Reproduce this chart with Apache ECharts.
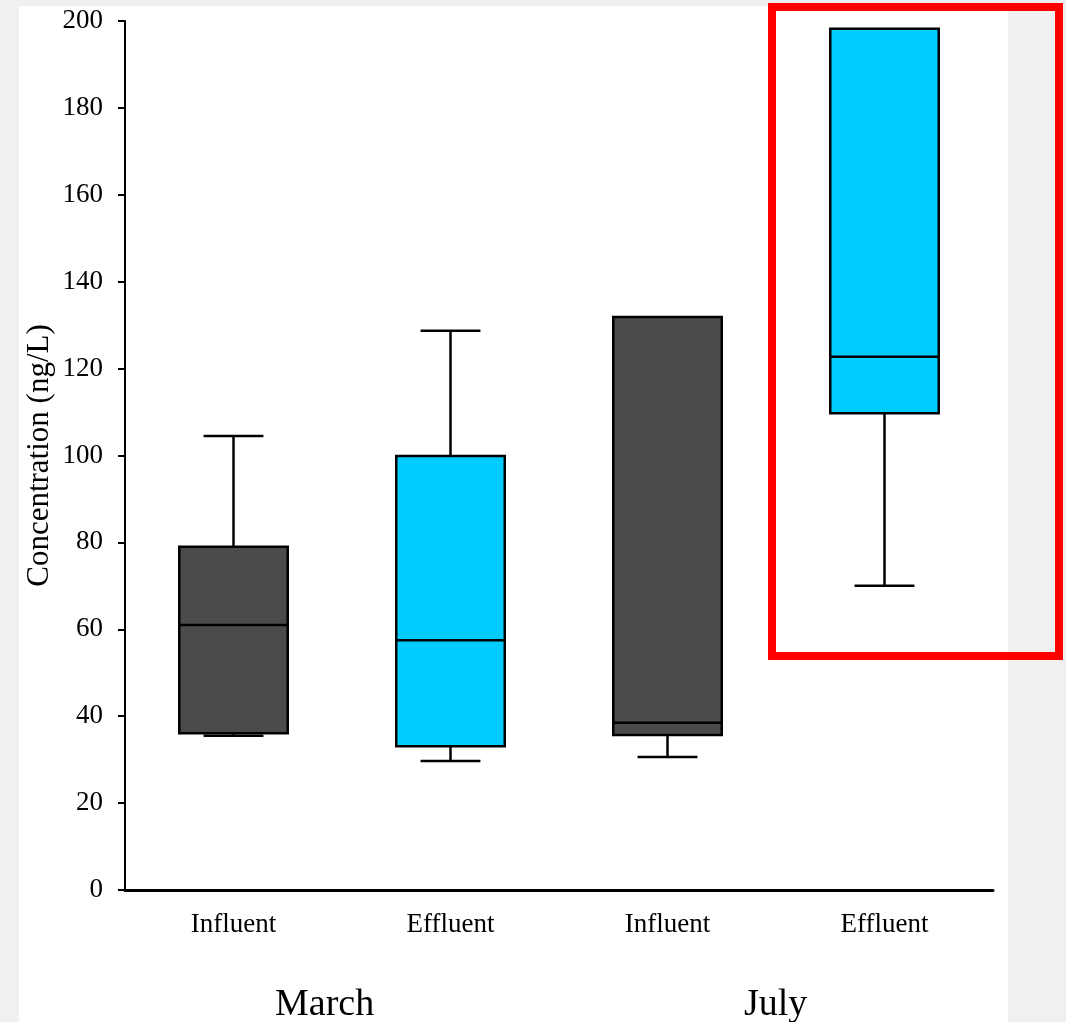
<!DOCTYPE html>
<html>
<head>
<meta charset="utf-8">
<script src="https://cdn.jsdelivr.net/npm/echarts@6/dist/echarts.min.js"></script>
<style>
html,body{margin:0;padding:0;background:#f0f0f0;}
#chart{width:1066px;height:1022px;}
</style>
</head>
<body>
<div id="chart"></div>
<script>
// ---- data ----
const categories = ['Influent', 'Effluent', 'Influent', 'Effluent'];
const sampleType = ['Influent', 'Effluent', 'Influent', 'Effluent'];
const mins    = [35.5, 29.7, 30.6, 70.0];
const q1s     = [36.1, 33.1, 35.7, 109.7];
const medians = [61.0, 57.5, 38.5, 122.7];
const q3s     = [79.0, 99.9, 131.9, 198.2];
const maxs    = [104.5, 128.7, 131.9, 198.2];
const groups  = ['March', 'July'];
const yTicks  = [0, 20, 40, 60, 80, 100, 120, 140, 160, 180, 200];

// ---- styles ----
const fillByType = { Influent: '#4b4b4b', Effluent: '#00ccff' };
const serif = 'Liberation Serif';

const boxData = categories.map((c, i) => [i, mins[i], q1s[i], medians[i], q3s[i], maxs[i]]);

const chart = echarts.init(document.getElementById('chart'), null, { renderer: 'canvas' });

function renderBox(params, api) {
  const x = api.value(0);
  const mn = api.value(1), q1 = api.value(2), md = api.value(3), q3 = api.value(4), mx = api.value(5);
  const band = api.size([1, 0])[0];
  const half = band * 0.25;
  const capHalf = band * 0.138;
  const pQ1 = api.coord([x, q1]);
  const pQ3 = api.coord([x, q3]);
  const pMd = api.coord([x, md]);
  const pMn = api.coord([x, mn]);
  const pMx = api.coord([x, mx]);
  const cx = pQ1[0];
  const fill = fillByType[sampleType[params.dataIndex]];
  const line = { stroke: '#000', lineWidth: 2.5 };
  const children = [];
  if (mx > q3) {
    children.push({ type: 'line', shape: { x1: cx, y1: pQ3[1], x2: cx, y2: pMx[1] }, style: line });
    children.push({ type: 'line', shape: { x1: cx - capHalf, y1: pMx[1], x2: cx + capHalf, y2: pMx[1] }, style: line });
  }
  if (mn < q1) {
    children.push({ type: 'line', shape: { x1: cx, y1: pQ1[1], x2: cx, y2: pMn[1] }, style: line });
    children.push({ type: 'line', shape: { x1: cx - capHalf, y1: pMn[1], x2: cx + capHalf, y2: pMn[1] }, style: line });
  }
  children.push({
    type: 'rect',
    shape: { x: cx - half, y: pQ3[1], width: half * 2, height: pQ1[1] - pQ3[1] },
    style: { fill: fill, stroke: '#000', lineWidth: 2.5 }
  });
  children.push({ type: 'line', shape: { x1: cx - half, y1: pMd[1], x2: cx + half, y2: pMd[1] }, style: line });
  return { type: 'group', children: children };
}

const option = {
  backgroundColor: '#f0f0f0',
  animation: false,
  grid: { left: 125, right: 73, top: 21, bottom: 132, containLabel: false },
  xAxis: {
    type: 'category',
    data: categories,
    boundaryGap: true,
    axisLine: { show: true, onZero: false, lineStyle: { color: '#000', width: 3 } },
    axisTick: { show: false },
    axisLabel: { color: '#000', fontFamily: serif, fontSize: 27, margin: 21, interval: 0 },
    splitLine: { show: false }
  },
  yAxis: {
    type: 'value',
    min: 0,
    max: 200,
    interval: 20,
    name: 'Concentration (ng/L)',
    nameLocation: 'middle',
    nameGap: 70,
    nameMoveOverlap: false,
    nameTextStyle: { color: '#000', fontFamily: serif, fontSize: 31 },
    axisLine: { show: true, lineStyle: { color: '#000', width: 2 } },
    axisTick: { show: true, inside: false, length: 7, lineStyle: { color: '#000', width: 2 } },
    axisLabel: {
      color: '#000', fontFamily: serif, fontSize: 27, margin: 22,
      formatter: v => (yTicks.indexOf(v) >= 0 ? String(v) : '')
    },
    splitLine: { show: false }
  },
  graphic: [
    { type: 'rect', z: -10, silent: true, shape: { x: 19, y: 6, width: 989, height: 1016 }, style: { fill: '#ffffff' } },
    { type: 'text', z: 10, left: 327 - 52, top: 986, style: { text: groups[0], font: '38px "Liberation Serif"', fill: '#000' } },
    { type: 'text', z: 10, left: 777 - 33, top: 986, style: { text: groups[1], font: '38px "Liberation Serif"', fill: '#000' } },
    { type: 'rect', z: 100, silent: true, shape: { x: 772, y: 7, width: 287, height: 649 }, style: { fill: 'none', stroke: '#ff0000', lineWidth: 8 } }
  ],
  series: [{
    type: 'custom',
    renderItem: renderBox,
    encode: { x: 0, y: [1, 2, 3, 4, 5] },
    data: boxData,
    z: 5
  }]
};

chart.setOption(option);
</script>
</body>
</html>
